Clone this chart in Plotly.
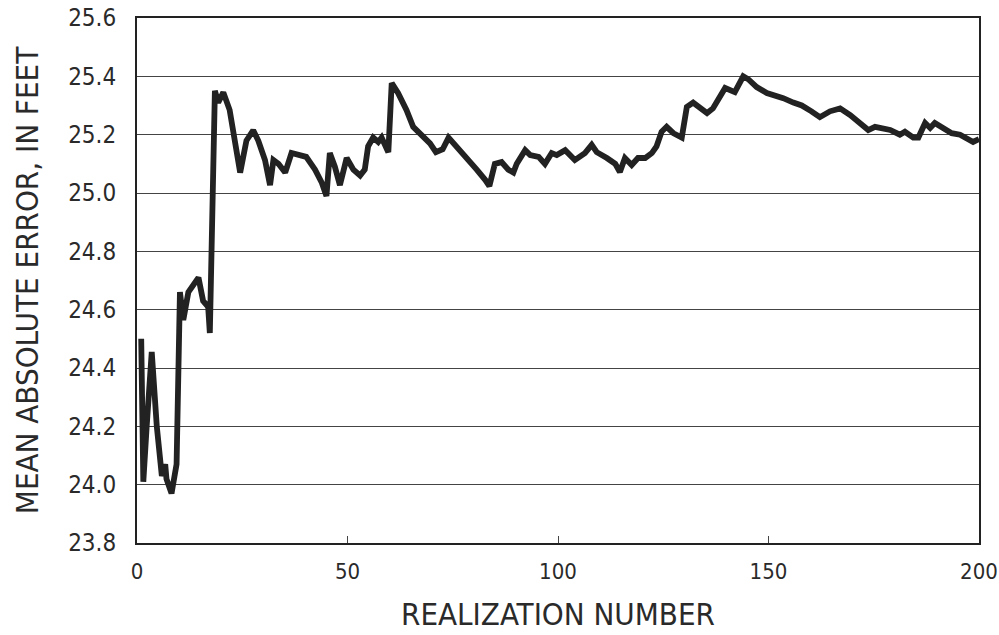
import plotly.graph_objects as go

# Mean absolute error as realizations are added
realization = [1, 1.5, 2.3, 3.5, 4.7, 5.9, 6.7, 7, 8.2, 9.4, 10.2, 11, 12.2, 14.6, 15.7,
               16.9, 17.3, 18.5, 19.3, 20.5, 22, 24.5, 26, 27.6, 28.8, 30.4, 31.6, 32.4,
               33.6, 35.2, 36.7, 39.1, 40.2, 42.3, 43.9, 45, 45.8, 47, 48.2, 49.8, 51.4,
               53, 54.1, 54.9, 56.1, 57.3, 58.1, 59.7, 60.5, 62, 64, 65.6, 67.6, 69.6,
               71, 72.6, 74, 75.9, 78.3, 80.7, 82.7, 83.7, 85, 86.6, 88.2, 89.4, 90.2,
               92.2, 93.4, 95.4, 96.9, 98.5, 99.7, 101.7, 104, 106.4, 108, 109.2, 111.6,
               113.6, 114.7, 115.9, 117.5, 119, 120.7, 122.3, 123.4, 124.6, 125.8, 127.4,
               129.4, 130.6, 132.1, 133.7, 135.4, 136.8, 138.5, 139.7, 142, 144, 145.2,
               147.2, 149.6, 151.5, 153.5, 155.9, 157.9, 160.2, 162.2, 164.6, 167, 169.4,
               171.7, 173.7, 175.3, 178.9, 181.2, 182.4, 184.4, 185.6, 187.2, 188.4, 189.5,
               191.5, 193.5, 195.5, 197, 198.6, 200]
mae_ft = [24.50, 24.01, 24.20, 24.455, 24.20, 24.03, 24.07, 24.02, 23.97, 24.07, 24.66,
          24.565, 24.66, 24.71, 24.63, 24.61, 24.52, 25.35, 25.31, 25.345, 25.285, 25.07,
          25.18, 25.215, 25.18, 25.113, 25.027, 25.113, 25.10, 25.07, 25.137, 25.13,
          25.124, 25.08, 25.035, 24.99, 25.137, 25.09, 25.027, 25.12, 25.08, 25.06, 25.08,
          25.16, 25.19, 25.175, 25.19, 25.14, 25.377, 25.343, 25.285, 25.227, 25.20,
          25.17, 25.14, 25.15, 25.19, 25.16, 25.12, 25.08, 25.045, 25.024, 25.10, 25.106,
          25.08, 25.07, 25.10, 25.147, 25.13, 25.124, 25.10, 25.137, 25.13, 25.147,
          25.113, 25.137, 25.165, 25.14, 25.12, 25.10, 25.072, 25.12, 25.096, 25.12,
          25.12, 25.137, 25.16, 25.21, 25.227, 25.205, 25.19, 25.295, 25.31, 25.295,
          25.274, 25.29, 25.33, 25.36, 25.346, 25.40, 25.39, 25.363, 25.343, 25.336,
          25.325, 25.31, 25.30, 25.28, 25.26, 25.28, 25.29, 25.267, 25.243, 25.216, 25.227,
          25.216, 25.20, 25.21, 25.19, 25.19, 25.24, 25.223, 25.24, 25.223, 25.205, 25.20,
          25.19, 25.175, 25.185]

x_ticks = [0, 50, 100, 150, 200]
y_ticks = [23.8, 24.0, 24.2, 24.4, 24.6, 24.8, 25.0, 25.2, 25.4, 25.6]

FONT = "Liberation Sans Narrow, DejaVu Sans Condensed, Arial Narrow, sans-serif"
INK = "#2a2a2a"

fig = go.Figure(
    go.Scatter(
        x=realization,
        y=mae_ft,
        mode="lines",
        line=dict(color="#222222", width=5.8, shape="linear"),
        hoverinfo="skip",
    )
)

fig.update_layout(
    width=999,
    height=635,
    margin=dict(l=137, r=20, t=18, b=92, autoexpand=False),
    paper_bgcolor="white",
    plot_bgcolor="white",
    showlegend=False,
    font=dict(family=FONT, color=INK),
)

fig.update_xaxes(
    range=[0, 200],
    automargin=False,
    tickvals=x_ticks,
    ticktext=[str(v) for v in x_ticks],
    ticks="inside",
    ticklen=7,
    tickwidth=1.2,
    tickcolor="#444444",
    tickfont=dict(size=22, family=FONT, color=INK),
    showgrid=False,
    zeroline=False,
    showline=True,
    linecolor="#222222",
    linewidth=2,
    mirror=True,
    ticklabelstandoff=8,
    title=dict(text="REALIZATION NUMBER", font=dict(size=31, family=FONT, color=INK), standoff=20),
)

fig.update_yaxes(
    range=[23.8, 25.6],
    automargin=False,
    tickvals=y_ticks,
    ticktext=[f"{v:.1f}" for v in y_ticks],
    ticks="",
    tickfont=dict(size=24, family=FONT, color=INK),
    showgrid=True,
    gridcolor="#444444",
    gridwidth=1.3,
    zeroline=False,
    showline=True,
    linecolor="#222222",
    linewidth=2,
    mirror=True,
    ticklabelstandoff=14,
    title=dict(text="MEAN ABSOLUTE ERROR, IN FEET", font=dict(size=31, family=FONT, color=INK), standoff=20),
)

fig.write_html("out.html")
